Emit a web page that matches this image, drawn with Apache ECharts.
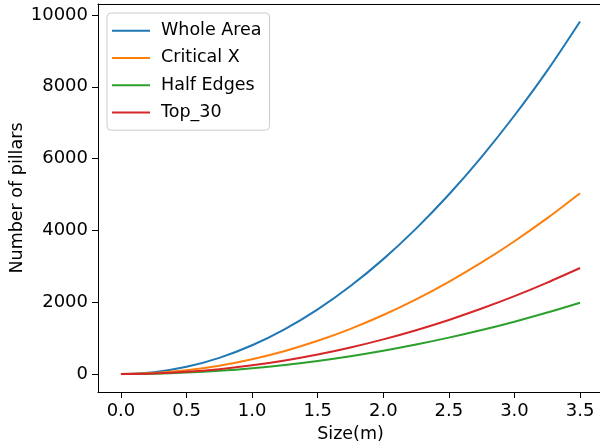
<!DOCTYPE html>
<html>
<head>
<meta charset="utf-8">
<script src="https://cdn.jsdelivr.net/npm/echarts@6/dist/echarts.min.js"></script>
<style>html,body{margin:0;padding:0;background:#fff}#c{width:600px;height:444px}</style>
</head>
<body>
<div id="c"></div>
<script>
const sizes = [0, 0.25, 0.5, 0.75, 1.0, 1.25, 1.5, 1.75, 2.0, 2.25, 2.5, 2.75, 3.0, 3.25, 3.5];
const wholeArea = [0, 50, 200, 450, 800, 1250, 1800, 2450, 3200, 4050, 5000, 6050, 7200, 8450, 9820];
const criticalX = [0, 26, 103, 231, 411, 642, 925, 1259, 1644, 2081, 2569, 3108, 3699, 4341, 5035];
const halfEdges = [0, 10, 41, 91, 162, 253, 365, 496, 648, 820, 1013, 1225, 1458, 1711, 1985];
const top30 = [0, 15, 60, 136, 241, 377, 542, 738, 964, 1220, 1506, 1823, 2169, 2546, 2952];
const seriesNames = ['Whole Area', 'Critical X', 'Half Edges', 'Top_30'];
const xTicks = [0, 0.5, 1.0, 1.5, 2.0, 2.5, 3.0, 3.5];
const yTicks = [0, 2000, 4000, 6000, 8000, 10000];
const colors = ['#1f77b4', '#ff7f0e', '#2ca02c', '#d62728'];

const seriesData = [wholeArea, criticalX, halfEdges, top30];
const chart = echarts.init(document.getElementById('c'), null, {renderer: 'canvas'});
const font = 'DejaVu Sans';
chart.setOption({
  animation: false,
  color: colors,
  grid: {left: 98, top: 4, width: 505, height: 388, show: false,
    containLabel: false, outerBoundsMode: 'none'},
  legend: {
    orient: 'vertical', left: 107, top: 13,
    data: seriesNames,
    icon: 'path://M0,0 L38,0 L38,2 L0,2 Z',
    itemWidth: 38, itemHeight: 2, itemGap: 8,
    padding: [8, 8, 8, 5],
    borderColor: '#cccccc', borderWidth: 1, borderRadius: 4,
    backgroundColor: 'rgba(255,255,255,0.8)',
    textStyle: {fontFamily: font, fontSize: 17.5, color: '#000', lineHeight: 19.3, padding: [0, 0, 0, 6]}
  },
  xAxis: [{
    type: 'value', min: -0.175, max: 3.675,
    name: 'Size(m)', nameLocation: 'middle', nameGap: 33, nameMoveOverlap: false,
    nameTextStyle: {fontFamily: font, fontSize: 17.5, color: '#000'},
    axisLine: {onZero: false, lineStyle: {color: '#000', width: 1}},
    splitLine: {show: false},
    axisTick: {show: true, length: 6, inside: false, customValues: xTicks, lineStyle: {color: '#000'}},
    axisLabel: {customValues: xTicks, fontFamily: font, fontSize: 18, color: '#000', margin: 10,
      formatter: v => v.toFixed(1)}
  }, {
    type: 'value', position: 'top', min: -0.175, max: 3.675,
    axisLine: {show: true, onZero: false, lineStyle: {color: '#000', width: 1}},
    axisTick: {show: false}, axisLabel: {show: false}, splitLine: {show: false}
  }],
  yAxis: {
    type: 'value', min: -501, max: 10306,
    name: 'Number of pillars', nameLocation: 'middle', nameGap: 72, nameRotate: 90, nameMoveOverlap: false,
    nameTextStyle: {fontFamily: font, fontSize: 17.5, color: '#000'},
    axisLine: {show: true, onZero: false, lineStyle: {color: '#000', width: 1}},
    splitLine: {show: false},
    axisTick: {show: true, length: 6, customValues: yTicks, lineStyle: {color: '#000'}},
    axisLabel: {customValues: yTicks, fontFamily: font, fontSize: 18, color: '#000', margin: 10,
      formatter: v => String(v)}
  },
  series: seriesNames.map((n, i) => ({
    name: n, type: 'line', smooth: 0.3, symbol: 'none', xAxisIndex: 0,
    data: sizes.map((x, j) => [x, seriesData[i][j]]),
    lineStyle: {width: 2, color: colors[i]}
  }))
});
</script>
</body>
</html>
